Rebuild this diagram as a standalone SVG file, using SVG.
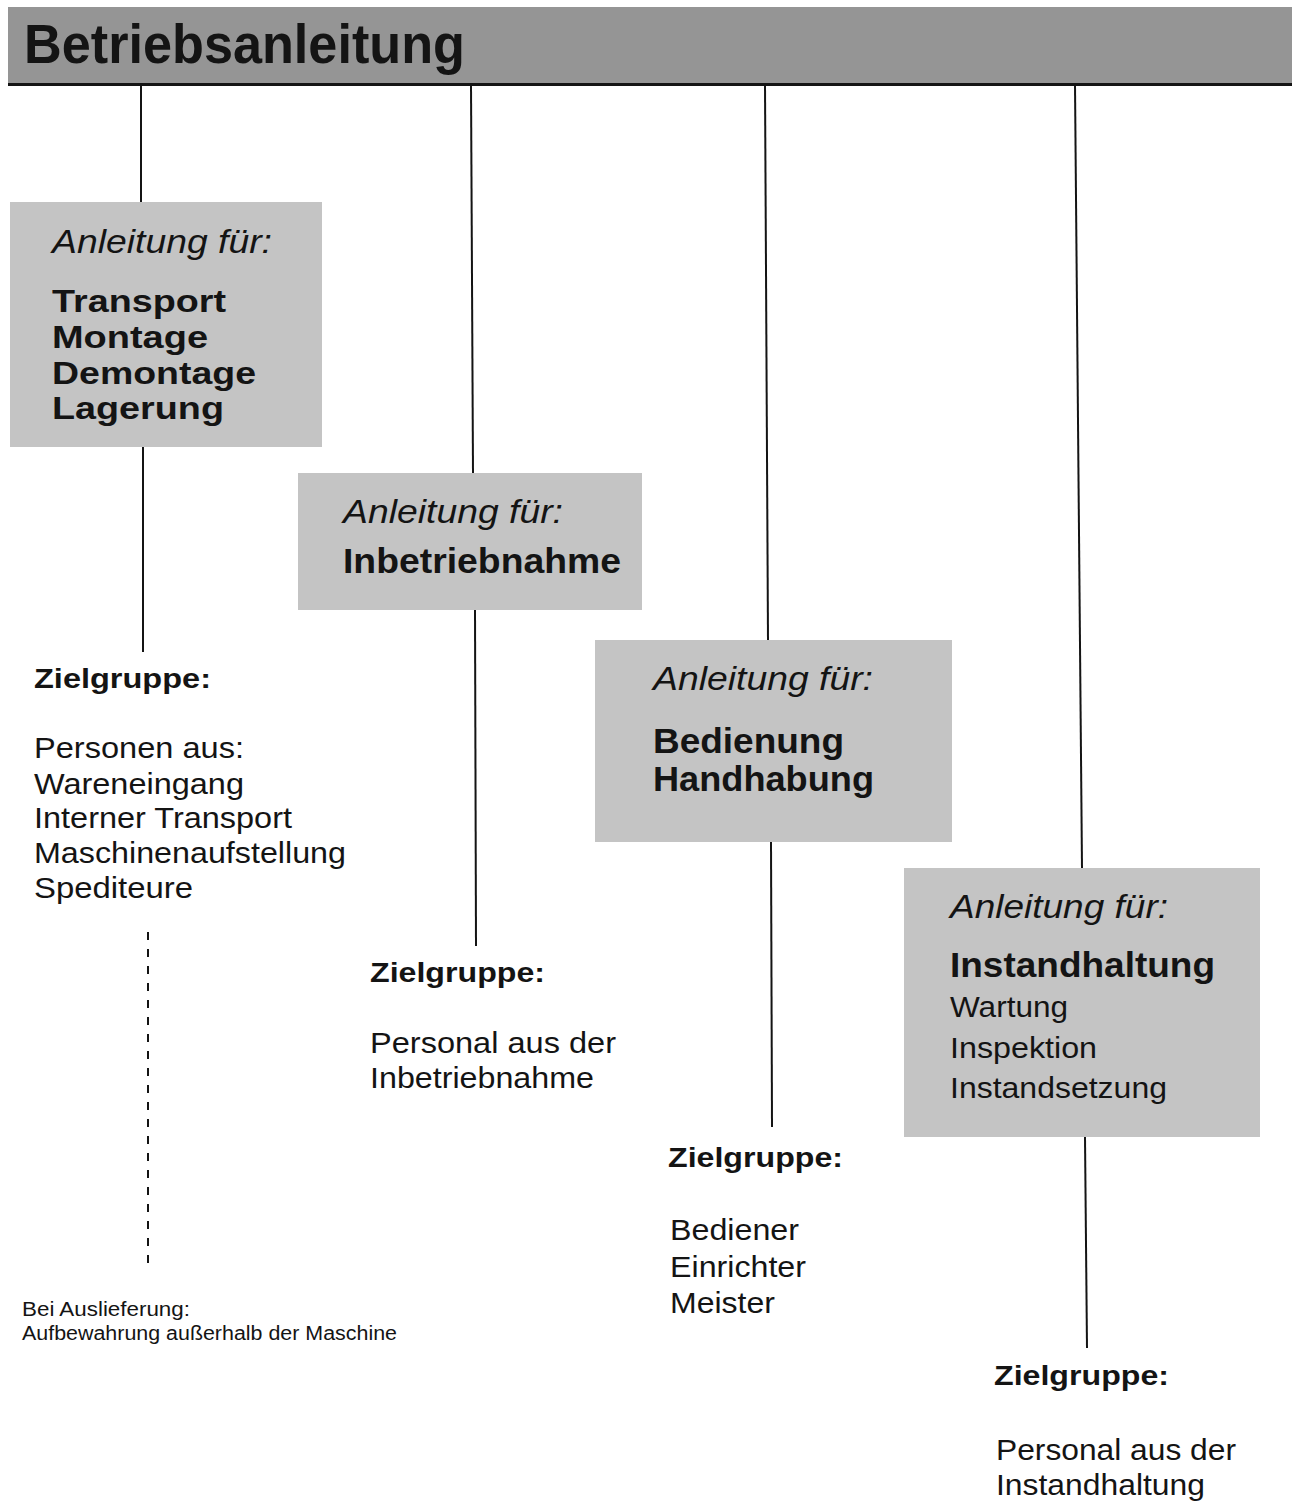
<svg xmlns="http://www.w3.org/2000/svg" width="1292" height="1502" viewBox="0 0 1292 1502">
<style>
text { font-family: "Liberation Sans", Arial, sans-serif; fill: #141414; }
.title { font-size: 55px; font-weight: bold; }
.it { font-size: 34px; font-style: italic; }
.bb { font-size: 35px; font-weight: bold; }
.bs { font-size: 31px; font-weight: bold; }
.rb { font-size: 30px; }
.zg { font-size: 28px; font-weight: bold; }
.tx { font-size: 30px; }
.sm { font-size: 20px; }
.box { fill: #c4c4c4; }
.bar { fill: #959595; }
.con { stroke: #141414; stroke-width: 2; fill: none; }
.dash { stroke: #141414; stroke-width: 2; fill: none; stroke-dasharray: 8 9; }
</style>

<g id="header">
  <rect class="bar" x="8" y="7" width="1284" height="77"/>
  <line x1="8" y1="84.5" x2="1292" y2="84.5" stroke="#141414" stroke-width="3"/>
  <text class="title" x="24" y="63" textLength="441" lengthAdjust="spacingAndGlyphs">Betriebsanleitung</text>
</g>

<g id="connectors">
  <line class="con" x1="141" y1="85" x2="141" y2="202"/>
  <line class="con" x1="143" y1="447" x2="143" y2="652"/>
  <line class="dash" x1="148" y1="932" x2="148" y2="1272"/>
  <line class="con" x1="471" y1="85" x2="473" y2="473"/>
  <line class="con" x1="475" y1="610" x2="476" y2="946"/>
  <line class="con" x1="765" y1="85" x2="768" y2="640"/>
  <line class="con" x1="771" y1="842" x2="772" y2="1127"/>
  <line class="con" x1="1075" y1="85" x2="1082" y2="868"/>
  <line class="con" x1="1085" y1="1137" x2="1087" y2="1348"/>
</g>

<g id="node-transport">
  <rect class="box" x="10" y="202" width="312" height="245"/>
  <text class="it" x="52" y="253" textLength="220" lengthAdjust="spacingAndGlyphs">Anleitung für:</text>
  <text class="bs" x="52" y="312" textLength="174" lengthAdjust="spacingAndGlyphs">Transport</text>
  <text class="bs" x="52" y="348" textLength="156" lengthAdjust="spacingAndGlyphs">Montage</text>
  <text class="bs" x="52" y="384" textLength="204" lengthAdjust="spacingAndGlyphs">Demontage</text>
  <text class="bs" x="52" y="419" textLength="172" lengthAdjust="spacingAndGlyphs">Lagerung</text>
</g>

<g id="node-inbetriebnahme">
  <rect class="box" x="298" y="473" width="344" height="137"/>
  <text class="it" x="343" y="523" textLength="220" lengthAdjust="spacingAndGlyphs">Anleitung für:</text>
  <text class="bb" x="343" y="573" textLength="278" lengthAdjust="spacingAndGlyphs">Inbetriebnahme</text>
</g>

<g id="node-bedienung">
  <rect class="box" x="595" y="640" width="357" height="202"/>
  <text class="it" x="653" y="690" textLength="220" lengthAdjust="spacingAndGlyphs">Anleitung für:</text>
  <text class="bb" x="653" y="753" textLength="191" lengthAdjust="spacingAndGlyphs">Bedienung</text>
  <text class="bb" x="653" y="791" textLength="221" lengthAdjust="spacingAndGlyphs">Handhabung</text>
</g>

<g id="node-instandhaltung">
  <rect class="box" x="904" y="868" width="356" height="269"/>
  <text class="it" x="950" y="918" textLength="218" lengthAdjust="spacingAndGlyphs">Anleitung für:</text>
  <text class="bb" x="950" y="977" textLength="265" lengthAdjust="spacingAndGlyphs">Instandhaltung</text>
  <text class="rb" x="950" y="1017" textLength="118" lengthAdjust="spacingAndGlyphs">Wartung</text>
  <text class="rb" x="950" y="1058" textLength="147" lengthAdjust="spacingAndGlyphs">Inspektion</text>
  <text class="rb" x="950" y="1098" textLength="217" lengthAdjust="spacingAndGlyphs">Instandsetzung</text>
</g>

<g id="target-transport">
  <text class="zg" x="34" y="688" textLength="177" lengthAdjust="spacingAndGlyphs">Zielgruppe:</text>
  <text class="tx" x="34" y="758" textLength="210" lengthAdjust="spacingAndGlyphs">Personen aus:</text>
  <text class="tx" x="34" y="794" textLength="210" lengthAdjust="spacingAndGlyphs">Wareneingang</text>
  <text class="tx" x="34" y="828" textLength="258" lengthAdjust="spacingAndGlyphs">Interner Transport</text>
  <text class="tx" x="34" y="863" textLength="312" lengthAdjust="spacingAndGlyphs">Maschinenaufstellung</text>
  <text class="tx" x="34" y="898" textLength="159" lengthAdjust="spacingAndGlyphs">Spediteure</text>
</g>

<g id="note-auslieferung">
  <text class="sm" x="22" y="1316" textLength="168" lengthAdjust="spacingAndGlyphs">Bei Auslieferung:</text>
  <text class="sm" x="22" y="1340" textLength="375" lengthAdjust="spacingAndGlyphs">Aufbewahrung außerhalb der Maschine</text>
</g>

<g id="target-inbetriebnahme">
  <text class="zg" x="370" y="982" textLength="175" lengthAdjust="spacingAndGlyphs">Zielgruppe:</text>
  <text class="tx" x="370" y="1053" textLength="246" lengthAdjust="spacingAndGlyphs">Personal aus der</text>
  <text class="tx" x="370" y="1088" textLength="224" lengthAdjust="spacingAndGlyphs">Inbetriebnahme</text>
</g>

<g id="target-bedienung">
  <text class="zg" x="668" y="1167" textLength="175" lengthAdjust="spacingAndGlyphs">Zielgruppe:</text>
  <text class="tx" x="670" y="1240" textLength="129" lengthAdjust="spacingAndGlyphs">Bediener</text>
  <text class="tx" x="670" y="1277" textLength="136" lengthAdjust="spacingAndGlyphs">Einrichter</text>
  <text class="tx" x="670" y="1313" textLength="105" lengthAdjust="spacingAndGlyphs">Meister</text>
</g>

<g id="target-instandhaltung">
  <text class="zg" x="994" y="1385" textLength="175" lengthAdjust="spacingAndGlyphs">Zielgruppe:</text>
  <text class="tx" x="996" y="1460" textLength="240" lengthAdjust="spacingAndGlyphs">Personal aus der</text>
  <text class="tx" x="996" y="1495" textLength="209" lengthAdjust="spacingAndGlyphs">Instandhaltung</text>
</g>
</svg>
